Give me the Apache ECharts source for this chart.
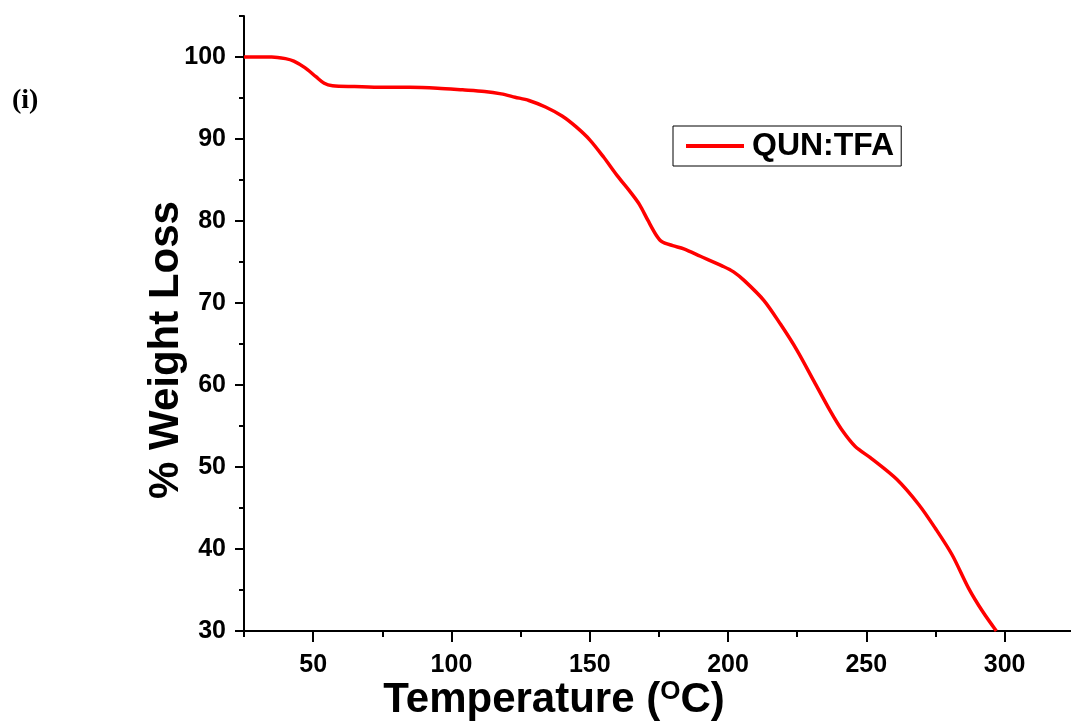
<!DOCTYPE html>
<html>
<head>
<meta charset="utf-8">
<script src="https://cdn.jsdelivr.net/npm/echarts@6/dist/echarts.min.js"></script>
<style>
  html, body { margin: 0; padding: 0; background: #fff; }
  #chart { width: 1071px; height: 724px; }
</style>
</head>
<body>
<div id="chart"></div>
<script>
// temperature (C) and remaining weight (%)
var temps = [25, 35, 40, 43, 47, 51, 54, 57, 65, 75, 85, 95, 104, 112, 118, 123, 128, 134, 140, 145,
  150, 155, 160, 165, 168, 171, 174, 176, 180, 184, 190, 198, 202, 206, 213, 219, 225, 231, 237, 241,
  246, 252, 261, 269, 275, 281, 287, 292, 297]
var weights = [100, 100, 99.8, 99.5, 98.7, 97.6, 96.8, 96.5, 96.4, 96.3, 96.3, 96.2, 96.0, 95.8, 95.5, 95.1, 94.7, 93.9, 92.8, 91.5,
  89.9, 87.8, 85.5, 83.4, 82.0, 80.1, 78.3, 77.5, 77.0, 76.6, 75.7, 74.5, 73.8, 72.7, 70.3, 67.4, 64.2, 60.5, 56.8, 54.6,
  52.5, 51.0, 48.5, 45.4, 42.5, 39.3, 35.2, 32.4, 30.0]
var xMajor = [50, 100, 150, 200, 250, 300]
var xMinor = [25, 75, 125, 175, 225, 275]
var yMajor = [30, 40, 50, 60, 70, 80, 90, 100]
var yMinor = [35, 45, 55, 65, 75, 85, 95, 105]
var seriesName = 'QUN:TFA'

var chart = echarts.init(document.getElementById('chart'))
var data = []
for (var i = 0; i < temps.length; i++) {
  data.push([temps[i], weights[i]])
}

var gridPos = {left: 244, right: 0, top: 16, bottom: 93}
var labelFont = {color: '#000', fontSize: 25, fontWeight: 'bold', fontFamily: 'Liberation Sans, Arial, sans-serif'}

chart.setOption({
  backgroundColor: '#fff',
  animation: false,
  grid: [
    Object.assign({}, gridPos),
    Object.assign({}, gridPos)
  ],
  legend: {
    data: [seriesName],
    left: 673,
    top: 126,
    padding: [4, 7, 4, 13],
    borderColor: '#000',
    borderWidth: 1,
    icon: 'rect',
    itemWidth: 58,
    itemHeight: 4,
    textStyle: {
      color: '#000',
      fontSize: 32,
      fontWeight: 'bold',
      fontFamily: 'Liberation Sans, Arial, sans-serif',
      lineHeight: 32,
      padding: [0, 0, 0, 3]
    }
  },
  xAxis: [
    {
      type: 'value', gridIndex: 0, min: 25, max: 324,
      splitLine: {show: false},
      axisLine: {show: true, onZero: false, lineStyle: {color: '#000', width: 2}},
      axisTick: {show: true, inside: false, length: 11, customValues: xMajor, lineStyle: {color: '#000', width: 2}},
      axisLabel: Object.assign({customValues: xMajor, margin: 22}, labelFont)
    },
    {
      type: 'value', gridIndex: 1, min: 25, max: 324,
      splitLine: {show: false},
      axisLine: {show: false, onZero: false},
      axisTick: {show: true, length: 6, customValues: xMinor, lineStyle: {color: '#000', width: 2}},
      axisLabel: {show: false}
    }
  ],
  yAxis: [
    {
      type: 'value', gridIndex: 0, min: 30, max: 105,
      splitLine: {show: false},
      axisLine: {show: true, onZero: false, lineStyle: {color: '#000', width: 2}},
      axisTick: {show: true, inside: false, length: 9, customValues: yMajor, lineStyle: {color: '#000', width: 2}},
      axisLabel: Object.assign({customValues: yMajor, margin: 18}, labelFont)
    },
    {
      type: 'value', gridIndex: 1, min: 30, max: 105,
      splitLine: {show: false},
      axisLine: {show: false, onZero: false},
      axisTick: {show: true, length: 5, customValues: yMinor, lineStyle: {color: '#000', width: 2}},
      axisLabel: {show: false}
    }
  ],
  graphic: [
    {
      type: 'text',
      left: 12, top: 87,
      style: {text: '(i)', fill: '#000', font: 'bold 28px "Liberation Serif", "Times New Roman", serif'}
    },
    {
      type: 'text',
      x: 166, y: 350,
      rotation: Math.PI / 2,
      style: {
        text: '% Weight Loss', fill: '#000',
        font: 'bold 42px "Liberation Sans", Arial, sans-serif',
        align: 'center', verticalAlign: 'middle'
      }
    },
    {
      type: 'text',
      x: 554, y: 700,
      style: {
        text: 'Temperature ({sup|O}C)',
        fill: '#000',
        font: 'bold 42px "Liberation Sans", Arial, sans-serif',
        align: 'center', verticalAlign: 'middle',
        rich: {
          sup: {fontSize: 26, fontWeight: 'bold', fontFamily: 'Liberation Sans, Arial, sans-serif', verticalAlign: 'top', fill: '#000'}
        }
      }
    }
  ],
  series: [
    {
      name: seriesName,
      type: 'line',
      xAxisIndex: 0,
      yAxisIndex: 0,
      data: data,
      smooth: 0.3,
      showSymbol: false,
      symbol: 'none',
      lineStyle: {color: '#ff0000', width: 3.5},
      itemStyle: {color: '#ff0000'}
    }
  ]
})
</script>
</body>
</html>
